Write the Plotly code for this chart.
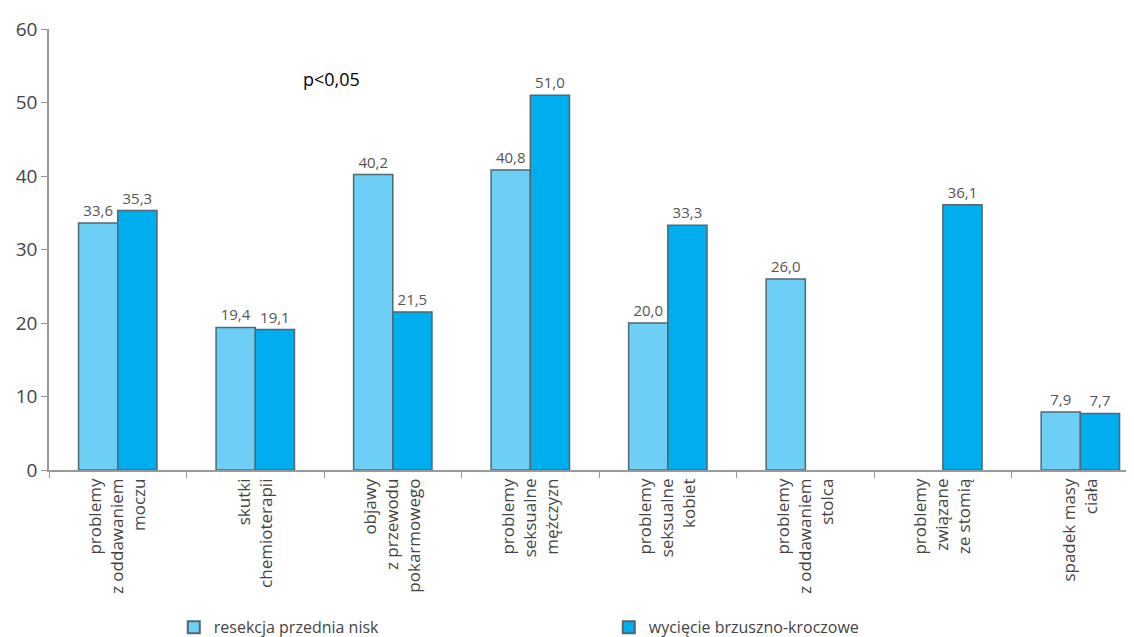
import plotly.graph_objects as go

categories = [
    "problemy<br>z oddawaniem<br>moczu",
    "skutki<br>chemioterapii",
    "objawy<br>z przewodu<br>pokarmowego",
    "problemy<br>seksualne<br>mężczyzn",
    "problemy<br>seksualne<br>kobiet",
    "problemy<br>z oddawaniem<br>stolca",
    "problemy<br>związane<br>ze stomią",
    "spadek masy<br>ciała",
]
series1_name = "resekcja przednia nisk"
series2_name = "wycięcie brzuszno-kroczowe"
series1 = [33.6, 19.4, 40.2, 40.8, 20.0, 26.0, None, 7.9]
series2 = [35.3, 19.1, 21.5, 51.0, 33.3, None, 36.1, 7.7]
y_ticks = [0, 10, 20, 30, 40, 50, 60]


def fmt(v):
    return "" if v is None else f"{v:.1f}".replace(".", ",")


fig = go.Figure()
fig.add_trace(go.Bar(
    x=categories, y=series1, name=series1_name,
    marker=dict(color="#6DCFF6", line=dict(color="#4F6873", width=1.5)),
    text=[fmt(v) for v in series1], textposition="outside",
    textfont=dict(size=15, color="#555555", family="Open Sans"),
    cliponaxis=False,
))
fig.add_trace(go.Bar(
    x=categories, y=series2, name=series2_name,
    marker=dict(color="#00AEEF", line=dict(color="#4F6873", width=1.5)),
    text=[fmt(v) for v in series2], textposition="outside",
    textfont=dict(size=15, color="#555555", family="Open Sans"),
    cliponaxis=False,
))

fig.add_annotation(
    x=0.26, y=0.886, xref="paper", yref="paper", text="p<0,05",
    showarrow=False, font=dict(size=18, color="#000000", family="Open Sans"),
    xanchor="center", yanchor="middle",
)

fig.update_layout(
    width=1134, height=637,
    paper_bgcolor="white", plot_bgcolor="white",
    margin=dict(l=41, r=8, t=21, b=175, autoexpand=False),
    barmode="group", bargap=0.43, bargroupgap=0,
    font=dict(family="Open Sans", color="#444444"),
    showlegend=True,
    legend=dict(
        orientation="h", x=0.115, y=-0.318, xanchor="left", yanchor="top",
        font=dict(size=16, color="#444444"), entrywidth=390,
        itemsizing="constant",
    ),
    uniformtext=dict(minsize=15, mode="show"),
)
fig.update_xaxes(
    range=[-0.5, 7.39], showline=True, linecolor="#999999", linewidth=1.5,
    ticks="outside", tickson="boundaries", ticklen=6, tickcolor="#999999",
    tickangle=-90, tickfont=dict(size=17, color="#444444", family="Open Sans"),
    showgrid=False, automargin=False,
)
fig.update_yaxes(
    range=[0, 60], tickvals=y_ticks, showline=True, linecolor="#999999",
    linewidth=1.5, ticks="outside", ticklen=6, tickcolor="#999999",
    tickfont=dict(size=19, color="#444444", family="Open Sans"),
    showgrid=False, zeroline=False, automargin=False,
)

fig.write_html("out.html")
